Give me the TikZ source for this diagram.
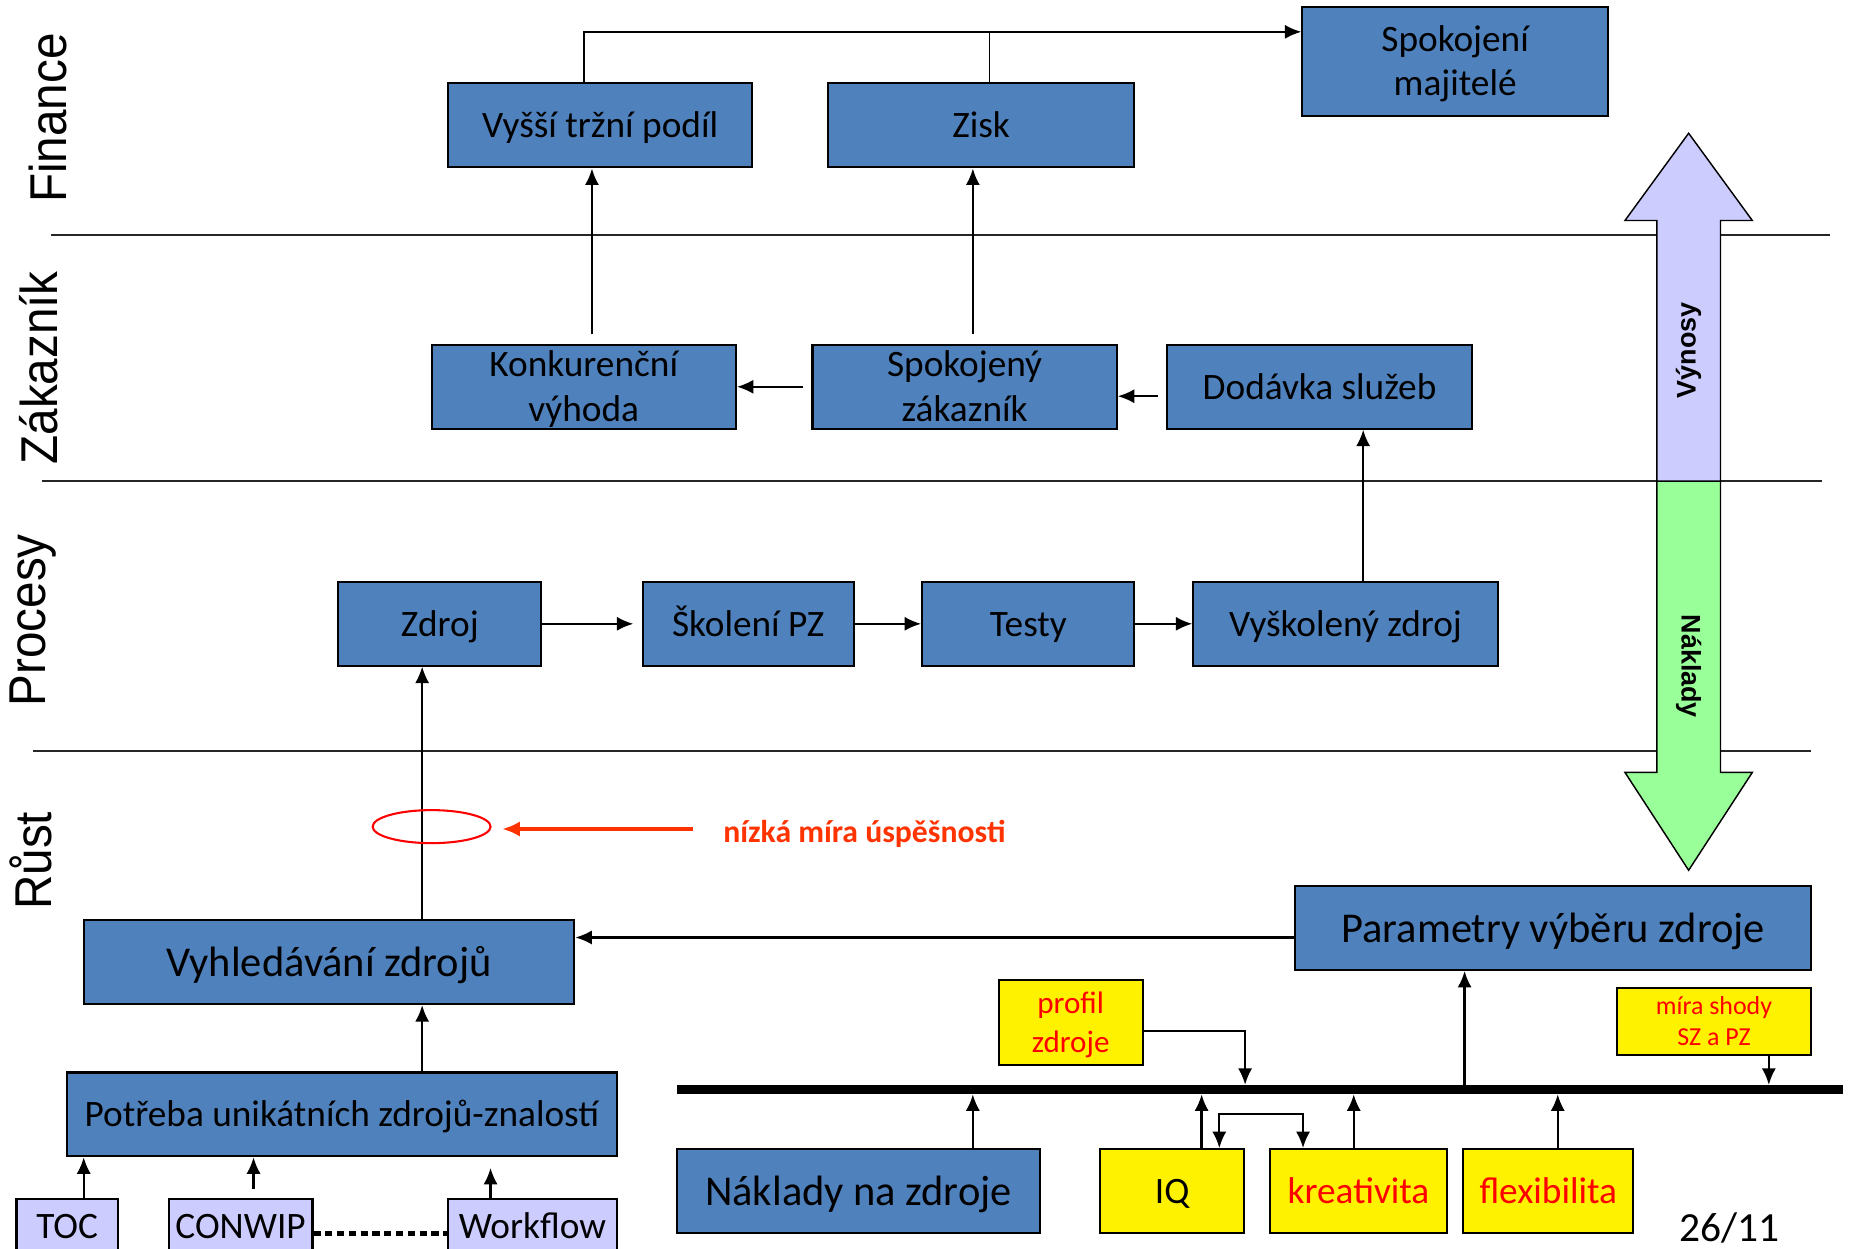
\documentclass[tikz,border=0pt]{standalone}
\usepackage{fontspec}
\setmainfont{Carlito}
\newfontfamily\lanefont{Liberation Sans}
\usepackage{tikz}
\usetikzlibrary{positioning}
\usetikzlibrary{arrows.meta,shapes.geometric,calc}
\usepackage{xcolor}
\usepackage{graphicx}

\definecolor{boxblue}{HTML}{4F81BD}
\definecolor{lav}{HTML}{CCCCFF}
\definecolor{lgreen}{HTML}{99FF99}
\definecolor{warn}{HTML}{FF3300}

\newcommand\boxstrut{\rule[-0.24em]{0pt}{1.14em}}
\newcommand\twolines[2]{\smash{\begin{tabular}{@{}c@{}}#1\\#2\end{tabular}}}

\tikzset{
  wh/.style 2 args={minimum width=#1*0.2mm, minimum height=#2*0.2mm},
  box/.style={draw=black, line width=1pt, fill=boxblue, align=center, inner sep=0pt,
    font=\fontsize{18}{21.5}\selectfont,
    execute at begin node=\boxstrut, execute at end node=\boxstrut},
  bigbox/.style={box, font=\fontsize{20.5}{24}\selectfont},
  ybox/.style={box, fill=yellow, text=red},
  lbox/.style={box, fill=lav},
  conn/.style={line width=1.1pt, -{Latex[length=2.8mm,width=2.4mm]}},
  thinconn/.style={conn, line width=0.8pt},
  busarrow/.style={conn, shorten >=0.8mm},
  lane/.style={rotate=90, font=\lanefont\fontsize{25}{25}\selectfont},
  sepline/.style={line width=0.9pt, black!85},
  flowtag/.style={font=\lanefont\bfseries\fontsize{13}{13}\selectfont},
}

\begin{document}
\begin{tikzpicture}[x=0.2mm,y=-0.2mm]
\clip (0,0) rectangle (1568,1059);

% lanes
\draw[sepline] (43,199) -- (1552,199);
\draw[sepline] (36,408) -- (1545,408);
\draw[sepline] (28,637) -- (1536,637);

\node[lane] (finance) at (41,100) {\scalebox{0.92}[1]{Finance}};
\node[lane] (zakaznik) at (33,312) {\scalebox{0.92}[1]{Zákazník}};
\node[lane] (procesy) at (28,526) {\scalebox{0.92}[1]{Procesy}};
\node[lane] (rust) at (26,730) {\scalebox{0.92}[1]{Růst}};

% revenue / cost arrow
\draw[line width=0.7pt, fill=lgreen] (1405,408) -- (1405,655) -- (1378,655) -- (1432,738)
  -- (1486,655) -- (1459,655) -- (1459,408) -- cycle;
\draw[line width=0.7pt, fill=lav] (1405,408) -- (1405,187) -- (1378,187) -- (1432,113)
  -- (1486,187) -- (1459,187) -- (1459,408) -- cycle;
\node[flowtag, rotate=90] (vynosy) at (1432,297) {Výnosy};
\node[flowtag, rotate=-90] (naklady) at (1432,565) {Náklady};

% Finance
\node[box, wh={258}{72}] (vyssi) at (509,106) {Vyšší tržní podíl};
\node[box, wh={259}{72}] (zisk) at (832,106) {Zisk};
\node[box, wh={259}{92}] (spokmaj) at (1234,52) {\twolines{Spokojení}{majitelé}};

% Zakaznik
\node[box, wh={258}{71}] (konk) at (495,328) {\twolines{Konkurenční}{výhoda}};
\node[box, wh={258}{71}] (spokzak) at (818,328) {\twolines{Spokojený}{zákazník}};
\node[box, wh={258}{71}] (dodavka) at (1119,328) {Dodávka služeb};

% Procesy
\node[box, wh={172}{71}] (zdroj) at (373,529) {Zdroj};
\node[box, wh={179}{71}] (skoleni) at (634.5,529) {Školení PZ};
\node[box, wh={180}{71}] (testy) at (872,529) {Testy};
\node[box, wh={258}{71}] (vyskol) at (1141,529) {Vyškolený zdroj};

% Rust
\node[bigbox, wh={416}{71}] (vyhled) at (279,816) {Vyhledávání zdrojů};
\node[bigbox, wh={438}{71}] (param) at (1317,787) {Parametry výběru zdroje};
\node[box, wh={466}{71}] (potreba) at (290,945) {Potřeba unikátních zdrojů-znalostí};
\node[bigbox, wh={308}{71}] (naklzdr) at (728,1010) {Náklady na zdroje};
\node[ybox, wh={122}{72}, font=\fontsize{15}{18.5}\selectfont] (profil) at (908,867) {\twolines{profil}{zdroje}};
\node[ybox, wh={165}{57}, font=\fontsize{12.5}{15}\selectfont] (mira) at (1453.5,866.5) {\twolines{míra shody}{SZ a PZ}};
\node[ybox, wh={122}{71}, text=black] (iq) at (994,1010) {IQ};
\node[ybox, wh={150}{71}] (krea) at (1152,1010) {kreativita};
\node[ybox, wh={144}{71}] (flex) at (1313,1010) {flexibilita};
\node[lbox, wh={86}{46}] (toc) at (57,1040) {TOC};
\node[lbox, wh={122}{46}] (conwip) at (204,1040) {CONWIP};
\node[lbox, wh={143}{46}] (workflow) at (451.5,1040) {Workflow};

\node[font=\fontsize{20}{20}\selectfont] (page) at (1467,1041) {26/11};

% finance links
\path ([yshift=5mm]spokmaj.west) coordinate (topbus);
\draw[conn] ([xshift=-2.8mm]vyssi.north) |- (topbus);
\draw[line width=0.8pt] ([xshift=1.4mm]zisk.north) coordinate (z1) -- (z1 |- topbus);

% customer links
\path ([xshift=-1.4mm]vyssi.south) coordinate (a1);
\draw[conn, shorten <=1.6mm] (a1 |- konk.north) -- (a1);
\path ([xshift=-1.4mm]zisk.south) coordinate (a2);
\draw[conn, shorten <=1.6mm] (a2 |- spokzak.north) -- (a2);
\draw[conn, shorten <=1.4mm] (spokzak.west) -- (konk.east);
\draw[conn, shorten <=1.4mm] ([yshift=-1.6mm]dodavka.west) -- ([yshift=-1.6mm]spokzak.east);

% process links
\path ([xshift=7.4mm]dodavka.south) coordinate (a3);
\draw[conn] (a3 |- vyskol.north) -- (a3);
\draw[conn, shorten >=1.4mm] (zdroj.east) -- (skoleni.west);
\draw[conn] (skoleni.east) -- (testy.west);
\draw[conn] (testy.east) -- (vyskol.west);

% growth links
\path ([xshift=13.6mm]potreba.north) coordinate (s);
\draw[conn] (s) -- (s |- vyhled.south);
\draw[thinconn] (s |- vyhled.north) -- (s |- zdroj.south);
\draw[conn] ([yshift=-1.6mm]param.west) -- ([yshift=-1.6mm]param.west -| vyhled.east);

\node[draw=red, line width=1pt, ellipse, inner sep=0pt, minimum width=20mm, minimum height=5.6mm] (ring) at (366,701) {};
\node[font=\bfseries\fontsize{15.3}{15.3}\selectfont, text=warn, anchor=west, inner sep=0pt] (low) at (613,707) {nízká míra úspěšnosti};
\draw[warn, line width=1.6pt, -{Latex[length=3mm,width=2.6mm]}, shorten <=5mm, shorten >=1.8mm]
  ([yshift=0.8mm]low.west) -- ([yshift=0.8mm]low.west -| ring.east);

\draw[conn] ([xshift=2.8mm]toc.north) coordinate (b1) -- (b1 |- potreba.south);
\draw[conn, shorten <=1.6mm] ([xshift=2.2mm]conwip.north) coordinate (b2) -- (b2 |- potreba.south);
\draw[conn, shorten >=1.8mm] ([xshift=-7.1mm]workflow.north) coordinate (b3) -- (b3 |- potreba.south);
\draw[line width=1mm, dash pattern=on 1.2mm off 0.8mm] ([yshift=-1.2mm]conwip.east) -- ([yshift=-1.2mm]conwip.east -| workflow.west);

% bus
\coordinate (busL) at (574,924);
\coordinate (busR) at (1563,924);
\draw[line width=1.6mm] (busL) -- (busR);

\draw[busarrow] ([xshift=19.4mm]naklzdr.north) coordinate (c1) -- (c1 |- busL);
\draw[busarrow] ([xshift=5mm]iq.north) coordinate (c2) -- (c2 |- busL);
\draw[busarrow] ([xshift=-0.8mm]krea.north) coordinate (c3) -- (c3 |- busL);
\draw[busarrow] ([xshift=1.6mm]flex.north) coordinate (c4) -- (c4 |- busL);
\draw[conn, {Latex[length=2.8mm,width=2.4mm]}-{Latex[length=2.8mm,width=2.4mm]}]
  ([xshift=8mm]iq.north) -- ++(0,-29) -| ([xshift=-9.4mm]krea.north);
\draw[busarrow] ([yshift=-1.4mm]profil.east) -- ++(86,0) coordinate (c5) -- (c5 |- busL);
\draw[busarrow] ([xshift=9.3mm]mira.south) coordinate (c6) -- (c6 |- busL);
\path ([xshift=-15mm]param.south) coordinate (c7);
\draw[conn, shorten <=0.8mm] (c7 |- busL) -- (c7);

\end{tikzpicture}
\end{document}
